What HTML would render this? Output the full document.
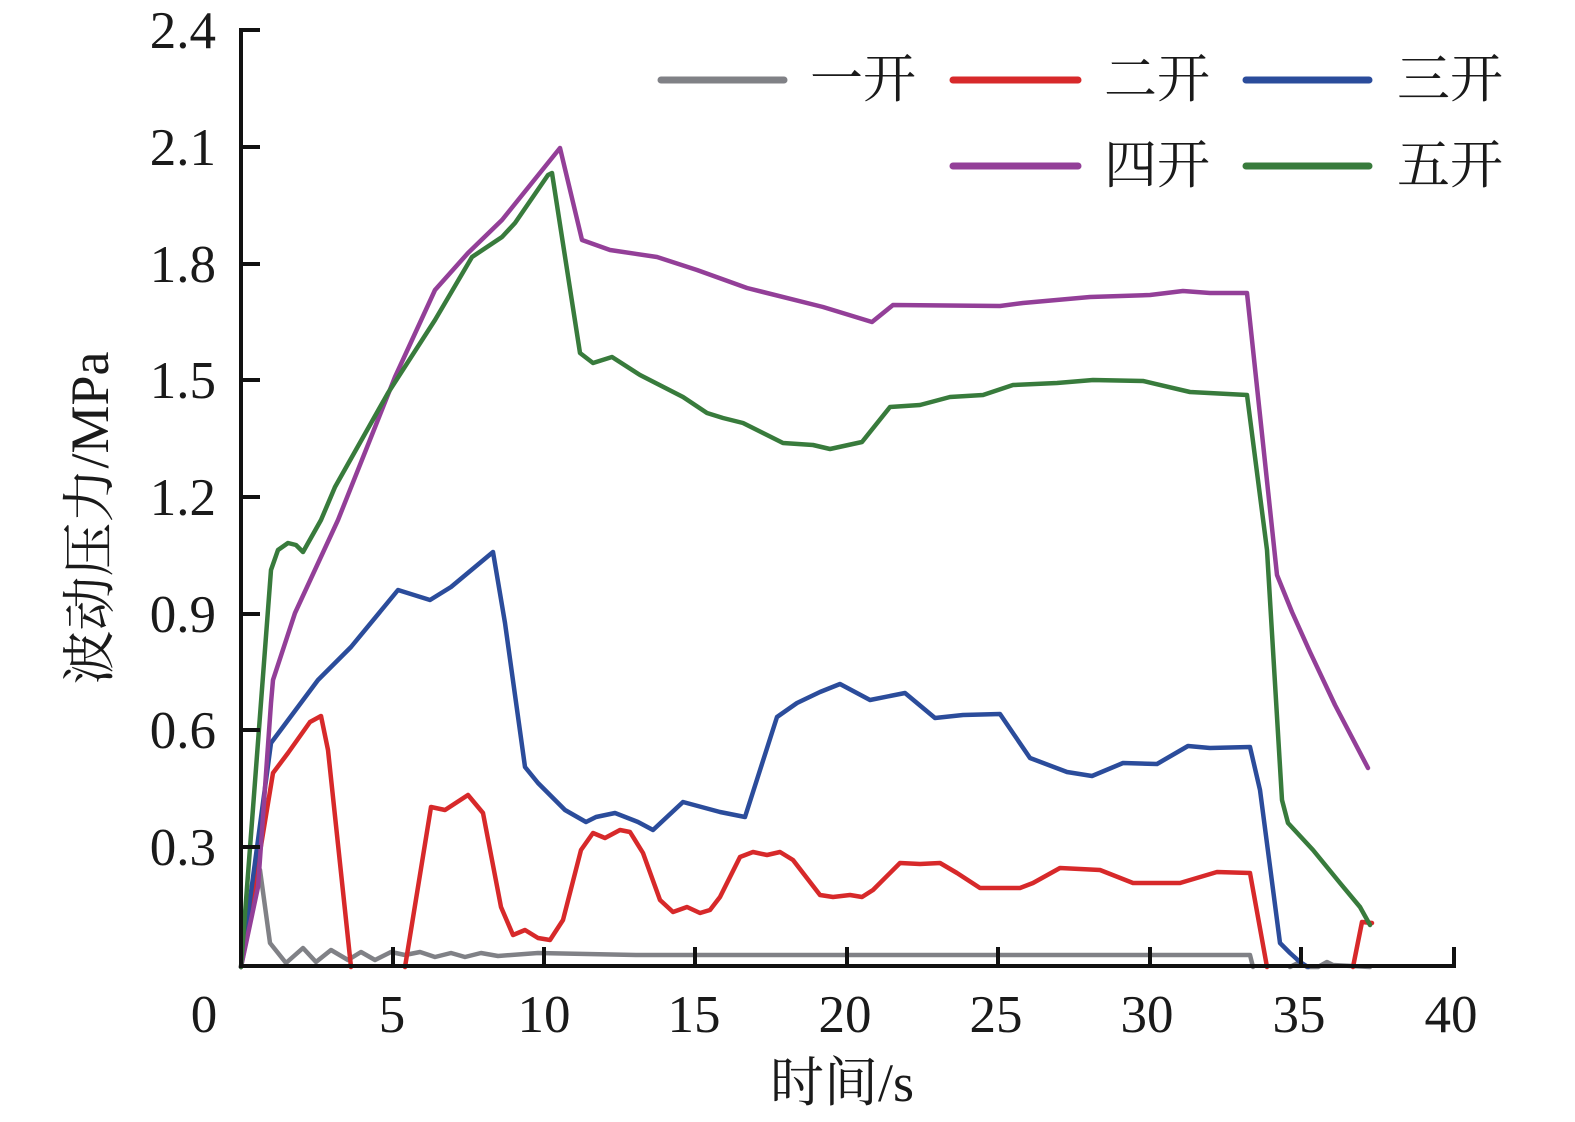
<!DOCTYPE html>
<html>
<head>
<meta charset="utf-8">
<style>
  html, body { margin: 0; padding: 0; background: #ffffff; }
  svg { display: block; }
  text { font-family: "Liberation Serif", "Noto Serif CJK SC", serif; fill: #1a1a1a; }
</style>
</head>
<body>
<svg width="1575" height="1122" viewBox="0 0 1575 1122" xmlns="http://www.w3.org/2000/svg">
  <rect x="0" y="0" width="1575" height="1122" fill="#ffffff"/>

  <!-- Series -->
  <g fill="none" stroke-width="4.5" stroke-linejoin="round" stroke-linecap="round">
    <!-- 一开 gray -->
    <polyline stroke="#808186" points="241,967 260,870 270,943 286,963 303,948 316,962 331,950 348,960 361,952 375,960 391,952 405,955 420,952 435,957 451,953 465,957 481,953 498,956 538,953 638,955 1250,955 1253,967"/>
    <polyline stroke="#808186" points="1290,967 1300,962 1307,967 1318,967 1327,962 1333,965 1370,967"/>
    <!-- 二开 red -->
    <polyline stroke="#d7292a" points="241,967 273,773 288,753 310,722 321,716 328,750 351,967"/>
    <polyline stroke="#d7292a" points="405,967 431,807 445,810 468,795 483,813 501,907 513,935 525,930 538,938 550,940 563,920 581,850 593,833 605,838 620,830 630,832 643,853 660,900 673,912 687,907 700,913 710,910 720,897 740,857 753,852 767,855 780,852 793,860 820,895 833,897 850,895 862,897 873,890 900,863 920,864 940,863 957,873 980,888 1020,888 1033,883 1060,868 1100,870 1133,883 1180,883 1217,872 1250,873 1267,967"/>
    <polyline stroke="#d7292a" points="1353,967 1362,922 1372,923"/>
    <!-- 三开 blue -->
    <polyline stroke="#2b4c9b" points="241,967 271,743 318,680 351,647 398,590 430,600 451,587 493,552 505,623 525,767 538,783 565,810 586,822 596,817 615,813 638,822 653,830 683,802 720,812 745,817 777,717 797,703 820,692 840,684 870,700 905,693 935,718 963,715 1000,714 1030,758 1067,772 1092,776 1123,763 1157,764 1188,746 1210,748 1250,747 1260,790 1280,943 1290,953 1300,962 1308,967"/>
    <!-- 四开 purple -->
    <polyline stroke="#933f98" points="241,967 258,887 271,703 273,680 295,613 338,520 395,377 435,290 468,253 502,220 560,148 582,240 610,250 657,257 697,270 747,288 823,307 872,322 893,305 1000,306 1023,303 1090,297 1150,295 1183,291 1210,293 1247,293 1277,575 1292,612 1310,652 1335,705 1368,768"/>
    <!-- 五开 green -->
    <polyline stroke="#387b3c" points="241,967 271,570 278,550 288,543 296,545 303,552 321,520 335,487 388,393 435,320 472,257 502,237 515,223 548,175 552,173 580,353 593,363 612,357 640,375 683,397 707,413 723,418 743,423 783,443 813,445 830,449 862,442 890,407 920,405 950,397 983,395 1013,385 1057,383 1093,380 1143,381 1190,392 1247,395 1267,550 1282,800 1288,823 1313,850 1340,883 1360,907 1370,925"/>
  </g>

  <!-- Axes -->
  <g stroke="#111111" stroke-width="4" fill="none">
    <line x1="241" y1="28" x2="241" y2="968"/>
    <line x1="239" y1="966" x2="1456" y2="966"/>
    <!-- y ticks -->
    <line x1="241" y1="30" x2="260" y2="30"/>
    <line x1="241" y1="147" x2="260" y2="147"/>
    <line x1="241" y1="264" x2="260" y2="264"/>
    <line x1="241" y1="380" x2="260" y2="380"/>
    <line x1="241" y1="497" x2="260" y2="497"/>
    <line x1="241" y1="614" x2="260" y2="614"/>
    <line x1="241" y1="730" x2="260" y2="730"/>
    <line x1="241" y1="847" x2="260" y2="847"/>
    <!-- x ticks -->
    <line x1="393" y1="966" x2="393" y2="947"/>
    <line x1="544" y1="966" x2="544" y2="947"/>
    <line x1="695" y1="966" x2="695" y2="947"/>
    <line x1="847" y1="966" x2="847" y2="947"/>
    <line x1="998" y1="966" x2="998" y2="947"/>
    <line x1="1150" y1="966" x2="1150" y2="947"/>
    <line x1="1301" y1="966" x2="1301" y2="947"/>
    <line x1="1454" y1="966" x2="1454" y2="947"/>
  </g>

  <!-- Y tick labels -->
  <g font-size="53" text-anchor="end">
    <text x="216" y="48">2.4</text>
    <text x="216" y="165">2.1</text>
    <text x="216" y="282">1.8</text>
    <text x="216" y="398">1.5</text>
    <text x="216" y="515">1.2</text>
    <text x="216" y="632">0.9</text>
    <text x="216" y="748">0.6</text>
    <text x="216" y="865">0.3</text>
  </g>

  <!-- X tick labels -->
  <g font-size="53" text-anchor="middle">
    <text x="204" y="1032">0</text>
    <text x="392" y="1032">5</text>
    <text x="544" y="1032">10</text>
    <text x="694" y="1032">15</text>
    <text x="845" y="1032">20</text>
    <text x="996" y="1032">25</text>
    <text x="1147" y="1032">30</text>
    <text x="1299" y="1032">35</text>
    <text x="1451" y="1032">40</text>
  </g>

  <!-- Axis titles -->
  <text x="842" y="1101" font-size="54" text-anchor="middle">时间/s</text>
  <text transform="translate(108,518) rotate(-90)" x="0" y="0" font-size="54" text-anchor="middle">波动压力/MPa</text>

  <!-- Legend -->
  <g stroke-width="7" stroke-linecap="round">
    <line x1="661" y1="80" x2="784" y2="80" stroke="#808186"/>
    <line x1="953" y1="80" x2="1078" y2="80" stroke="#d7292a"/>
    <line x1="1246" y1="80" x2="1369" y2="80" stroke="#2b4c9b"/>
    <line x1="953" y1="166" x2="1078" y2="166" stroke="#933f98"/>
    <line x1="1246" y1="166" x2="1369" y2="166" stroke="#387b3c"/>
  </g>
  <g font-size="53">
    <text x="810" y="97">一开</text>
    <text x="1104" y="97">二开</text>
    <text x="1397" y="97">三开</text>
    <text x="1104" y="183">四开</text>
    <text x="1397" y="183">五开</text>
  </g>
</svg>
</body>
</html>
